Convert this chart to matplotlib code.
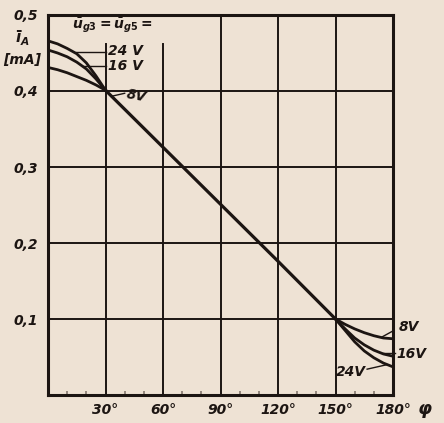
import matplotlib
matplotlib.use("Agg")
import matplotlib.pyplot as plt
from matplotlib import font_manager as fm
from matplotlib.ticker import FixedLocator

# ---- data ----
phi_left = [0, 5, 10, 15, 20, 25, 30]
ia_24_left = [0.466, 0.462, 0.456, 0.449, 0.437, 0.420, 0.401]
ia_16_left = [0.454, 0.450, 0.445, 0.438, 0.429, 0.416, 0.401]
ia_8_left = [0.431, 0.428, 0.424, 0.419, 0.414, 0.408, 0.401]

phi_mid = [30, 60, 90, 120, 150]
ia_mid = [0.401, 0.326, 0.251, 0.176, 0.100]

phi_right = [150, 155, 160, 165, 170, 175, 180]
ia_8_right = [0.100, 0.093, 0.087, 0.082, 0.078, 0.075, 0.074]
ia_16_right = [0.100, 0.087, 0.075, 0.066, 0.059, 0.054, 0.051]
ia_24_right = [0.100, 0.085, 0.070, 0.058, 0.049, 0.042, 0.037]

x_ticks = [30, 60, 90, 120, 150, 180]
x_labels = ["30°", "60°", "90°", "120°", "150°", "180°"]
y_ticks = [0.1, 0.2, 0.3, 0.4, 0.5]
y_labels = ["0,1", "0,2", "0,3", "0,4", "0,5"]

# ---- font ----
names = {f.name for f in fm.fontManager.ttflist}
if "Liberation Sans Narrow" in names:
    FONT = "Liberation Sans Narrow"
    FS = 12.5
else:
    FONT = "DejaVu Sans"
    FS = 10
plt.rcParams["font.family"] = [FONT, "DejaVu Sans"]
plt.rcParams["mathtext.fontset"] = "custom"
plt.rcParams["mathtext.it"] = f"{FONT}:italic:bold"
plt.rcParams["mathtext.rm"] = f"{FONT}:bold"
plt.rcParams["mathtext.bf"] = f"{FONT}:bold"

BG = "#eee2d4"
INK = "#1c1512"
tstyle = dict(fontstyle="italic", fontweight="bold", color=INK)

fig = plt.figure(figsize=(4.44, 4.23), dpi=100, facecolor=BG)
ax = fig.add_axes([48 / 444, 1 - 395 / 423, 345 / 444, 380 / 423])
ax.set_facecolor(BG)
ax.set_xlim(0, 180)
ax.set_ylim(0, 0.5)

# grid
for y in [0.1, 0.2, 0.3, 0.4]:
    ax.axhline(y, color=INK, lw=1.4, zorder=1)
for x in [90, 120, 150]:
    ax.axvline(x, color=INK, lw=1.4, zorder=1)
for x in [30, 60]:
    ax.axvline(x, ymax=0.462 / 0.5, color=INK, lw=1.4, zorder=1)

for s in ax.spines.values():
    s.set_linewidth(2.2)
    s.set_color(INK)

# curves
lw = 2.0
ax.plot(phi_mid, ia_mid, color=INK, lw=2.3, zorder=3)
for ys in (ia_24_left, ia_16_left, ia_8_left):
    ax.plot(phi_left, ys, color=INK, lw=lw, zorder=3, solid_joinstyle="round")
for ys in (ia_8_right, ia_16_right, ia_24_right):
    ax.plot(phi_right, ys, color=INK, lw=lw, zorder=3, solid_joinstyle="round")

# ticks
ax.xaxis.set_major_locator(FixedLocator(x_ticks))
ax.set_xticklabels(x_labels, **tstyle, fontsize=FS)
ax.xaxis.set_minor_locator(FixedLocator([10, 20, 40, 50, 70, 80, 100, 110, 130, 140, 160, 170]))
ax.tick_params(axis="x", which="major", length=0, pad=6)
ax.tick_params(axis="x", which="minor", direction="in", length=3, width=1.1, color="#7a6e66")
ax.yaxis.set_major_locator(FixedLocator(y_ticks))
ax.set_yticklabels(y_labels, **tstyle, fontsize=FS)
ax.tick_params(axis="y", which="major", length=0, pad=7)

# axis names
fig.text(425 / 444, 1 - 409 / 423, "φ", ha="center", va="center", fontsize=FS + 3, **tstyle)
fig.text(22 / 444, 1 - 38 / 423, r"$\bar{\imath}_A$", ha="center", va="center", fontsize=FS + 1, color=INK)
fig.text(22 / 444, 1 - 60 / 423, "[mA]", ha="center", va="center", fontsize=FS, **tstyle)

# legend title
ax.text(12.5, 0.487, r"$\bar{u}_{g3} = \bar{u}_{g5} =$", ha="left", va="center",
        fontsize=FS, color=INK)

# left labels with leaders
ax.plot([14.6, 30], [0.451, 0.451], color=INK, lw=1.0, zorder=2)
ax.text(31.5, 0.452, "24 V", ha="left", va="center", fontsize=FS, **tstyle)
ax.plot([18.1, 30], [0.433, 0.433], color=INK, lw=1.0, zorder=2)
ax.text(31.5, 0.433, "16 V", ha="left", va="center", fontsize=FS, **tstyle)
ax.plot([33, 40], [0.393, 0.397], color=INK, lw=1.0, zorder=2)
ax.text(40.5, 0.393, "8V", ha="left", va="center", fontsize=FS, **tstyle, rotation=-10)

# right labels with leaders
ax.plot([174, 180.5], [0.076, 0.085], color=INK, lw=1.0, zorder=2, clip_on=False)
ax.text(183, 0.090, "8V", ha="left", va="center", fontsize=FS, clip_on=False, **tstyle)
ax.plot([175, 181], [0.055, 0.055], color=INK, lw=1.0, zorder=2, clip_on=False)
ax.text(182, 0.054, "16V", ha="left", va="center", fontsize=FS, clip_on=False, **tstyle)
ax.plot([166.5, 177], [0.034, 0.040], color=INK, lw=1.0, zorder=2)
ax.text(166, 0.030, "24V", ha="right", va="center", fontsize=FS, **tstyle)

fig.savefig("out.png", dpi=100, facecolor=BG)
